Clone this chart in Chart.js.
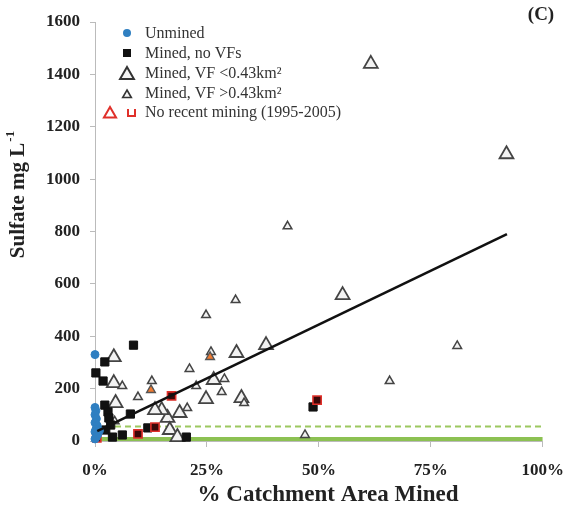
<!DOCTYPE html>
<html lang="en">
<head>
<meta charset="UTF-8" />
<title>Sulfate vs catchment area mined</title>
<style>
  html, body { margin: 0; padding: 0; background: #fff; }
  #wrap { width: 577px; height: 505px; }
</style>
</head>
<body>
<div id="wrap"><canvas id="sulfateChart"></canvas></div>
<script src="https://cdn.jsdelivr.net/npm/chart.js"></script>
<script>
// x = % catchment area mined, y = sulfate (mg/L)
const unmined = [[0, 330], [0, 128], [0.2, 115], [0, 100], [0.3, 85], [0, 70], [0.5, 58],
  [0.2, 45], [0, 35], [0.6, 25], [0.3, 15], [0, 8], [1.0, 40]];
const minedNoVF = [[8.6, 366], [2.2, 302], [0.2, 260], [1.8, 229], [2.2, 137], [2.9, 111],
  [3.1, 88], [3.5, 61], [2.4, 42], [7.9, 103], [6.1, 23], [3.9, 15], [11.8, 50], [20.4, 15],
  [48.7, 130]];
const vfSmall = [[61.6, 1440], [91.9, 1095], [55.3, 557], [38.2, 366], [31.6, 336], [32.7, 164],
  [26.5, 233], [24.8, 160], [18.9, 107], [16.2, 88], [14.9, 118], [13.4, 118], [16.7, 42],
  [18.4, 15], [4.2, 320], [4.2, 221], [4.6, 145]];
const vfLarge = [[43.0, 820], [31.4, 538], [24.8, 481], [80.9, 363], [65.8, 229], [46.9, 23],
  [6.1, 210], [9.6, 168], [12.7, 229], [21.1, 275], [22.6, 210], [28.9, 237], [28.3, 187],
  [20.6, 126], [33.3, 145], [25.9, 340], [4.4, 75]];
// no recent mining (1995-2005)
const oldSquares = [[0.4, 12], [9.6, 27], [13.4, 53], [17.1, 172], [49.6, 156]];
const oldTriangles = [[12.5, 195], [25.7, 321]];

const fitX = [0.5, 92];
const fitY = [38, 790];
const refSolid = 8;
const refDashed = 55;

const xTicks = [0, 25, 50, 75, 100];
const yTicks = [0, 200, 400, 600, 800, 1000, 1200, 1400, 1600];

const pts = (arr) => arr.map((p) => ({ x: p[0], y: p[1] }));
const SERIF = "'Liberation Serif', 'Times New Roman', serif";

// titles, panel label and legend drawn by hand
const extras = {
  id: "extras",
  afterDraw(chart) {
    const ctx = chart.ctx;
    ctx.save();
    ctx.fillStyle = "#222";
    ctx.textBaseline = "middle";

    // y title, rotated, with superscript
    ctx.save();
    ctx.translate(19, 195);
    ctx.rotate(-Math.PI / 2);
    ctx.font = "bold 21px " + SERIF;
    const main = "Sulfate mg L";
    const w1 = ctx.measureText(main).width;
    ctx.font = "bold 13px " + SERIF;
    const w2 = ctx.measureText("-1").width;
    let u = -(w1 + w2) / 2;
    ctx.font = "bold 21px " + SERIF;
    ctx.textAlign = "left";
    ctx.fillText(main, u, 0);
    ctx.font = "bold 13px " + SERIF;
    ctx.fillText("-1", u + w1 + 1, -8);
    ctx.restore();

    // x title
    ctx.font = "bold 23px " + SERIF;
    ctx.textAlign = "center";
    ctx.fillText("% Catchment Area Mined", 328, 495);

    // panel label
    ctx.font = "bold 19px " + SERIF;
    ctx.fillText("(C)", 541, 15);

    // legend
    const rows = [33, 53, 73, 93, 112];
    const labels = ["Unmined", "Mined, no VFs", "Mined, VF <0.43km\u00b2", "Mined, VF >0.43km\u00b2",
      "No recent mining (1995-2005)"];
    ctx.font = "16px " + SERIF;
    ctx.textAlign = "left";
    ctx.fillStyle = "#333";
    labels.forEach((t, i) => ctx.fillText(t, 145, rows[i] + 1));

    const tri = (x, y, r, fill, stroke, lw) => {
      ctx.beginPath();
      ctx.moveTo(x, y - r);
      ctx.lineTo(x + r * 0.866, y + r / 2);
      ctx.lineTo(x - r * 0.866, y + r / 2);
      ctx.closePath();
      ctx.fillStyle = fill;
      ctx.fill();
      ctx.lineWidth = lw;
      ctx.strokeStyle = stroke;
      ctx.stroke();
    };
    ctx.fillStyle = "#2f7fc1";
    ctx.beginPath();
    ctx.arc(127, rows[0], 4, 0, Math.PI * 2);
    ctx.fill();
    ctx.fillStyle = "#111";
    ctx.fillRect(123, rows[1] - 4, 8, 8);
    tri(127, rows[2] + 2, 8, "#f4f4f4", "#333", 2);
    tri(127, rows[3] + 2, 5, "#f4f4f4", "#333", 1.6);
    tri(110, rows[4] + 2, 7, "#fff", "#e0302a", 2);
    ctx.strokeStyle = "#e0302a";
    ctx.lineWidth = 2;
    ctx.beginPath();
    ctx.moveTo(128, rows[4] - 3);
    ctx.lineTo(128, rows[4] + 4);
    ctx.lineTo(135, rows[4] + 4);
    ctx.lineTo(135, rows[4] - 3);
    ctx.stroke();
    ctx.restore();
  },
};

const triStyle = { pointStyle: "triangle", backgroundColor: "#f2f2f2", borderColor: "#444", showLine: false, clip: false };

new Chart(document.getElementById("sulfateChart"), {
  type: "scatter",
  data: {
    datasets: [
      {
        label: "fit",
        type: "line",
        data: fitX.map((x, i) => ({ x: x, y: fitY[i] })),
        borderColor: "#111",
        borderWidth: 2.6,
        pointRadius: 0,
        order: 0,
      },
      {
        label: "Unmined",
        data: pts(unmined),
        pointStyle: "circle",
        pointRadius: 4,
        backgroundColor: "#2f7fc1",
        borderColor: "#2f7fc1",
        clip: false,
        order: 1,
      },
      {
        label: "No recent mining (1995-2005)",
        data: pts(oldSquares),
        pointStyle: "rect",
        pointRadius: 5.8,
        backgroundColor: "#3a0808",
        borderColor: "#e0302a",
        borderWidth: 1.6,
        clip: false,
        order: 2,
      },
      {
        label: "No recent mining, VF",
        data: pts(oldTriangles),
        pointStyle: "triangle",
        pointRadius: 5,
        backgroundColor: "#f07a30",
        borderColor: "#555",
        borderWidth: 1.4,
        order: 2,
      },
      {
        label: "Mined, no VFs",
        data: pts(minedNoVF),
        pointStyle: "rect",
        pointRadius: 5.8,
        backgroundColor: "#111",
        borderColor: "#111",
        borderWidth: 1,
        clip: false,
        order: 3,
      },
      Object.assign({ label: "Mined, VF >0.43km2", data: pts(vfLarge), pointRadius: 5, borderWidth: 1.5, order: 4 }, triStyle),
      Object.assign({ label: "Mined, VF <0.43km2", data: pts(vfSmall), pointRadius: 8, borderWidth: 1.8, order: 5 }, triStyle),
      {
        label: "ref dashed",
        type: "line",
        data: [{ x: 0, y: refDashed }, { x: 100, y: refDashed }],
        borderColor: "#9cc860",
        borderWidth: 2,
        borderDash: [6, 4],
        pointRadius: 0,
        order: 6,
      },
      {
        label: "ref solid",
        type: "line",
        data: [{ x: 0, y: refSolid }, { x: 100, y: refSolid }],
        borderColor: "#8cc152",
        borderWidth: 4,
        pointRadius: 0,
        order: 7,
      },
    ],
  },
  options: {
    responsive: true,
    maintainAspectRatio: false,
    animation: false,
    layout: { padding: { left: 0, right: 27, top: 22, bottom: 0 } },
    plugins: { legend: { display: false }, tooltip: { enabled: false } },
    scales: {
      x: {
        type: "linear",
        min: 0,
        max: 100,
        afterBuildTicks: (s) => { s.ticks = xTicks.map((v) => ({ value: v })); },
        afterFit: (s) => { s.height = 64; },
        ticks: {
          callback: (v) => v + "%",
          font: { family: SERIF, size: 17, weight: "bold" },
          color: "#222",
          padding: 13,
          maxRotation: 0,
        },
        grid: { drawOnChartArea: false, tickLength: 6, color: "#bbb" },
        border: { color: "#bbb" },
      },
      y: {
        min: 0,
        max: 1600,
        afterBuildTicks: (s) => { s.ticks = yTicks.map((v) => ({ value: v })); },
        afterFit: (s) => { s.width = 95; },
        ticks: {
          callback: (v) => String(v),
          font: { family: SERIF, size: 17, weight: "bold" },
          color: "#222",
          padding: 10,
        },
        grid: { drawOnChartArea: false, tickLength: 5, color: "#bbb" },
        border: { color: "#bbb" },
      },
    },
  },
  plugins: [extras],
});
</script>
</body>
</html>
